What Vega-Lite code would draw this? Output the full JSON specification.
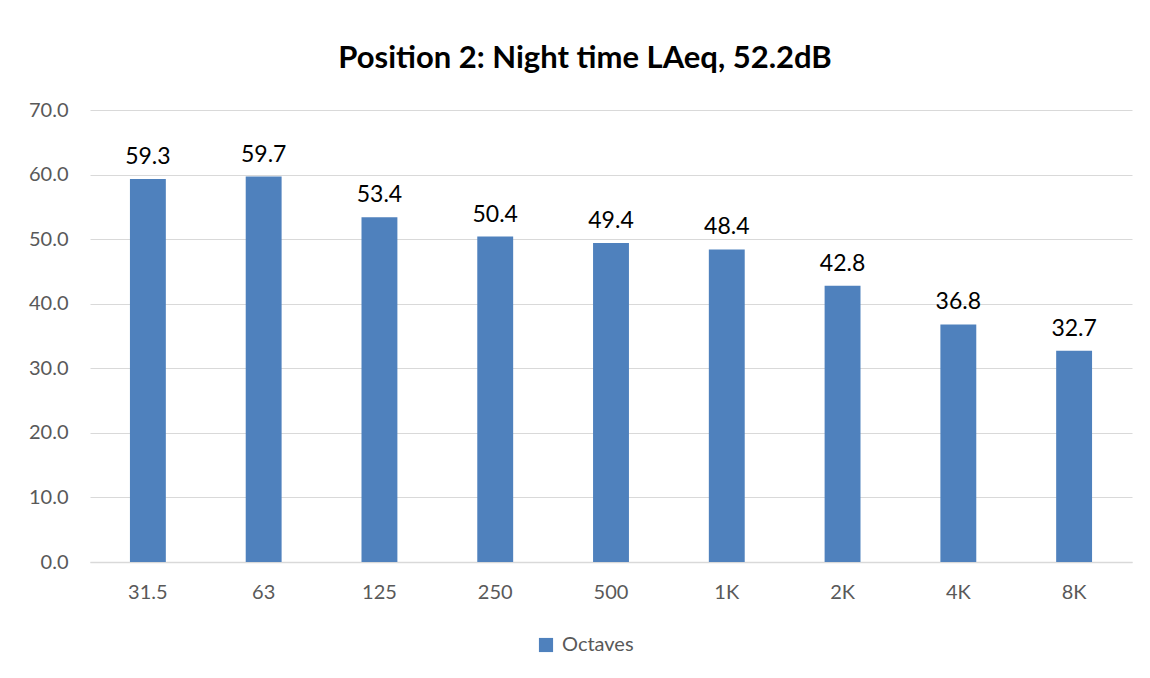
{
  "$schema": "https://vega.github.io/schema/vega-lite/v6.json",
  "width": 1042,
  "height": 452,
  "autosize": {"type": "none"},
  "padding": {"left": 90, "top": 110, "right": 18, "bottom": 116},
  "background": "white",
  "title": {
    "text": "Position 2: Night time LAeq, 52.2dB",
    "font": "Lato",
    "fontSize": 31,
    "fontWeight": "bold",
    "color": "#000000",
    "anchor": "middle",
    "dx": -26,
    "offset": 25
  },
  "data": {
    "values": [
      {"band": "31.5", "value": 59.3, "series": "Octaves"},
      {"band": "63", "value": 59.7, "series": "Octaves"},
      {"band": "125", "value": 53.4, "series": "Octaves"},
      {"band": "250", "value": 50.4, "series": "Octaves"},
      {"band": "500", "value": 49.4, "series": "Octaves"},
      {"band": "1K", "value": 48.4, "series": "Octaves"},
      {"band": "2K", "value": 42.8, "series": "Octaves"},
      {"band": "4K", "value": 36.8, "series": "Octaves"},
      {"band": "8K", "value": 32.7, "series": "Octaves"}
    ]
  },
  "encoding": {
    "x": {
      "field": "band",
      "type": "nominal",
      "sort": null,
      "scale": {"paddingInner": 0, "paddingOuter": 0},
      "axis": {
        "title": null,
        "labelAngle": 0,
        "labelFont": "Lato",
        "labelFontSize": 20,
        "labelColor": "#595959",
        "labelPadding": 20,
        "ticks": false,
        "domainColor": "#D9D9D9",
        "domainWidth": 1.5
      }
    },
    "y": {
      "field": "value",
      "type": "quantitative",
      "scale": {"domain": [0, 70]},
      "axis": {
        "title": null,
        "values": [0, 10, 20, 30, 40, 50, 60, 70],
        "format": ".1f",
        "labelFont": "Lato",
        "labelFontSize": 20,
        "labelColor": "#595959",
        "labelPadding": 22,
        "ticks": false,
        "domain": false,
        "gridColor": "#D9D9D9",
        "gridWidth": 1.2
      }
    }
  },
  "layer": [
    {
      "mark": {"type": "bar", "width": {"band": 0.31}},
      "encoding": {
        "color": {
          "field": "series",
          "type": "nominal",
          "scale": {"range": ["#4F81BD"]},
          "legend": {
            "title": null,
            "orient": "none",
            "legendX": 446,
            "legendY": 525,
            "symbolType": "square",
            "symbolSize": 200,
            "symbolStrokeWidth": 0,
            "labelFont": "Lato",
            "labelFontSize": 20,
            "labelColor": "#595959",
            "labelOffset": 6
          }
        }
      }
    },
    {
      "mark": {"type": "text", "baseline": "alphabetic", "dy": -15, "font": "Lato", "fontSize": 23, "color": "#000000"},
      "encoding": {
        "text": {"field": "value", "type": "quantitative", "format": ".1f"}
      }
    }
  ],
  "config": {"view": {"stroke": null}}
}
